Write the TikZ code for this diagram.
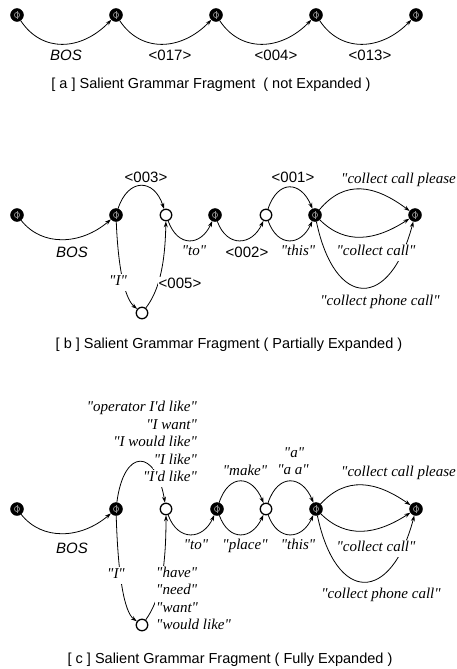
\documentclass[tikz,border=0pt]{standalone}
\usepackage{fontspec}
\setmainfont{Liberation Serif}[Ligatures=TeXOff]
\setsansfont{Liberation Sans}
\usetikzlibrary{arrows.meta,positioning}
\tikzset{
  bstate/.style={circle, draw=black, fill=black, minimum size=13pt, inner sep=0pt,
    path picture={\draw[black!45, line width=0.7pt] (path picture bounding box.center) circle (2.6pt);
      \draw[black!45, line width=0.7pt] ([yshift=-3.8pt]path picture bounding box.center) -- ([yshift=3.8pt]path picture bounding box.center);}},
  wstate/.style={circle, draw=black, line width=1.3pt, fill=white, minimum size=11.5pt, inner sep=0pt},
  trans/.style={-{Stealth[length=6pt,width=4pt]}, line width=0.8pt},
  tok/.style={font=\sffamily\fontsize{15}{17}\selectfont, inner sep=1pt},
  bos/.style={tok, font=\sffamily\itshape\fontsize{15}{17}\selectfont},
  phrase/.style={font=\itshape\fontsize{15}{17}\selectfont, inner xsep=1pt, inner ysep=1pt, text height=11pt, text depth=4pt},
  cut/.style={fill=white},
  caption/.style={font=\sffamily\fontsize{14.5}{17}\selectfont},
}
\begin{document}
\begin{tikzpicture}[x=1pt,y=1pt]
\useasboundingbox (0,0) rectangle (456,-669);

% [a] not expanded
\node[bstate] (a0) at (17,-15) {};
\node[bstate] (a1) at (116,-15) {};
\node[bstate] (a2) at (216,-15) {};
\node[bstate] (a3) at (316,-15) {};
\node[bstate] (a4) at (416,-15) {};
\foreach \i/\j in {0/1,1/2,2/3,3/4}
  \draw[trans] (a\i) .. controls +(25,-38) and +(-35,-36) .. (a\j);
\node[bos] (la0) at (66,-55) {BOS};
\node[tok] (la1) at (170,-55) {<017>};
\node[tok] (la2) at (276,-55) {<004>};
\node[tok] (la3) at (370,-55) {<013>};
\node[caption] (capa) at (211,-85) {[ a ] Salient Grammar Fragment \ ( not Expanded )};

% [b] partially expanded
\node[bstate] (b0) at (17,-215) {};
\node[bstate] (b1) at (116,-215) {};
\node[wstate] (b2) at (166,-215) {};
\node[bstate] (b3) at (215,-215) {};
\node[wstate] (b4) at (266,-215) {};
\node[bstate] (b5) at (315,-215) {};
\node[bstate] (b6) at (415,-215) {};
\node[wstate] (b7) at (142,-313) {};
\draw[trans] (b0) .. controls +(25,-32) and +(-35,-30) .. (b1);
\draw[trans] (b1) .. controls +(12,37) and +(-12,37) .. (b2);
\draw[trans] (b1) .. controls (118,-265) and (124,-298) .. (b7);
\draw[trans] (b7) .. controls (158,-292) and (165,-268) .. (b2);
\draw[trans] (b2) .. controls +(12,-33) and +(-14,-31) .. (b3);
\draw[trans] (b3) .. controls +(12,-33) and +(-14,-31) .. (b4);
\draw[trans] (b4) .. controls +(12,36) and +(-14,34) .. (b5);
\draw[trans] (b4) .. controls +(12,-33) and +(-14,-31) .. (b5);
\draw[trans] (b5) .. controls +(30,36) and +(-40,30) .. (b6);
\draw[trans] (b5) .. controls +(30,-30) and +(-40,-26) .. (b6);
\draw[trans] (b5) .. controls +(20,-95) and +(-25,-95) .. (b6);
\node[bos] (lb0) at (72,-252) {BOS};
\node[tok] (lb1) at (146,-177) {<003>};
\node[phrase, cut] (lb2) at (118,-282) {"I"};
\node[tok, cut] (lb3) at (180,-283) {<005>};
\node[phrase] (lb4) at (194,-252) {"to"};
\node[tok] (lb5) at (247,-252) {<002>};
\node[phrase] (lb6) at (298,-252) {"this"};
\node[tok] (lb7) at (293,-177) {<001>};
\node[phrase, anchor=east] (lb8) at (457,-180) {"collect call please};
\node[phrase, cut] (lb9) at (376,-252) {"collect call"};
\node[phrase] (lb10) at (380,-302) {"collect phone call"};
\node[caption] (capb) at (229,-345) {[ b ] Salient Grammar Fragment ( Partially Expanded )};

% [c] fully expanded
\node[bstate] (c0) at (17,-509) {};
\node[bstate] (c1) at (116,-509) {};
\node[wstate] (c2) at (166,-509) {};
\node[bstate] (c3) at (217,-509) {};
\node[wstate] (c4) at (266,-509) {};
\node[bstate] (c5) at (316,-509) {};
\node[bstate] (c6) at (416,-509) {};
\node[wstate] (c7) at (142,-625) {};
\draw[trans] (c0) .. controls +(25,-32) and +(-35,-30) .. (c1);
\draw[trans] (c1) .. controls (124,-447) and (156,-449) .. (c2);
\draw[trans] (c1) .. controls (118,-575) and (124,-612) .. (c7);
\draw[trans] (c7) .. controls (160,-600) and (166,-570) .. (c2);
\draw[trans] (c2) .. controls +(12,-33) and +(-14,-31) .. (c3);
\draw[trans] (c3) .. controls +(12,36) and +(-14,34) .. (c4);
\draw[trans] (c3) .. controls +(12,-33) and +(-14,-31) .. (c4);
\draw[trans] (c4) .. controls +(12,36) and +(-14,34) .. (c5);
\draw[trans] (c4) .. controls +(12,-33) and +(-14,-31) .. (c5);
\draw[trans] (c5) .. controls +(30,33) and +(-40,28) .. (c6);
\draw[trans] (c5) .. controls +(30,-30) and +(-40,-26) .. (c6);
\draw[trans] (c5) .. controls +(20,-95) and +(-25,-95) .. (c6);
\node[bos] (lc0) at (72,-548) {BOS};
% phrases into the first open state
\node[phrase, cut, anchor=east] (lc1e) at (198,-478) {"I'd like"};
\node[phrase, cut, above left=0pt and 0pt of lc1e.north east] (lc1d) {"I like"};
\node[phrase, cut, above left=0pt and 0pt of lc1d.north east] (lc1c) {"I would like"};
\node[phrase, cut, above left=0pt and 0pt of lc1c.north east] (lc1b) {"I want"};
\node[phrase, cut, above left=0pt and 0pt of lc1b.north east] (lc1a) {"operator I'd like"};
\node[phrase, cut] (lc2) at (116,-575) {"I"};
% phrases back up from the lower state
\node[phrase, cut, anchor=west] (lc3a) at (155,-574) {"have"};
\node[phrase, cut, below right=0pt and 0pt of lc3a.south west] (lc3b) {"need"};
\node[phrase, cut, below right=0pt and 0pt of lc3b.south west] (lc3c) {"want"};
\node[phrase, cut, below right=0pt and 0pt of lc3c.south west] (lc3d) {"would like"};
\node[phrase] (lc4) at (196,-546) {"to"};
\node[phrase] (lc5) at (245,-472) {"make"};
\node[phrase] (lc6) at (245,-546) {"place"};
\node[phrase] (lc7) at (294,-454) {"a"};
\node[phrase] (lc8) at (293,-471) {"a a"};
\node[phrase] (lc9) at (298,-546) {"this"};
\node[phrase, anchor=east] (lc10) at (457,-473) {"collect call please};
\node[phrase, cut] (lc11) at (376,-548) {"collect call"};
\node[phrase] (lc12) at (381,-595) {"collect phone call"};
\node[caption] (capc) at (230,-660) {[ c ] Salient Grammar Fragment ( Fully Expanded )};
\end{tikzpicture}
\end{document}
